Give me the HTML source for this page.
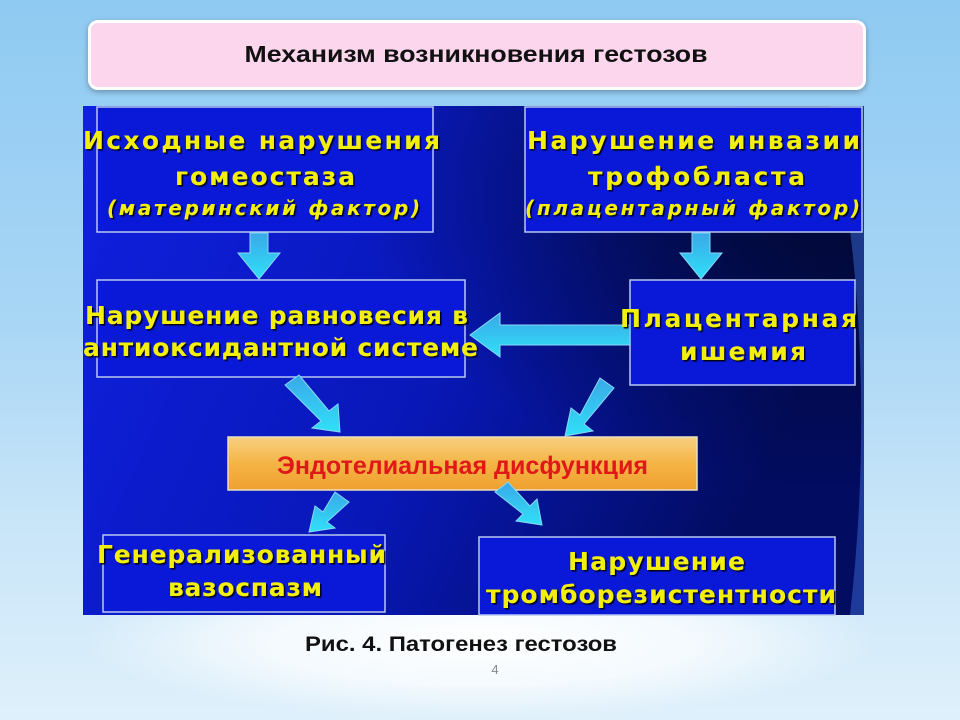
<!DOCTYPE html>
<html><head><meta charset="utf-8"><style>
body{margin:0;width:960px;height:720px;overflow:hidden;font-family:"Liberation Sans",sans-serif;
background:linear-gradient(180deg,#8fcaf2 0%,#a9d6f5 45%,#c6e4f8 70%,#dff0fb 100%);position:relative}
.glow{position:absolute;left:80px;top:560px;width:800px;height:160px;border-radius:50%;background:radial-gradient(ellipse at center,#ffffff 0%,rgba(255,255,255,0.7) 40%,rgba(255,255,255,0) 70%)}
.title{position:absolute;left:88px;top:20px;width:772px;height:64px;background:#fbd6ec;border:3px solid #fff;border-radius:10px;box-shadow:0 2px 6px rgba(0,0,0,.3)}
.num{position:absolute;left:0;width:990px;top:662px;text-align:center;font-size:13px;color:#888}
</style></head><body>
<div class="glow"></div>
<div class="title"></div>
<svg style="position:absolute;left:0;top:0" width="960" height="720">
<defs>
<linearGradient id="bg" x1="0" y1="0" x2="1" y2="0.3">
<stop offset="0" stop-color="#1020e0"/><stop offset="0.55" stop-color="#0818b8"/><stop offset="1" stop-color="#020c60"/></linearGradient>
<radialGradient id="dk" cx="0.95" cy="0.15" r="0.6"><stop offset="0" stop-color="#010830"/><stop offset="1" stop-color="#010830" stop-opacity="0"/></radialGradient>
<linearGradient id="or" x1="0" y1="0" x2="0" y2="1"><stop offset="0" stop-color="#f7d080"/><stop offset="0.5" stop-color="#f4b445"/><stop offset="1" stop-color="#f0a030"/></linearGradient>
<linearGradient id="ar" x1="0" y1="0" x2="0" y2="1"><stop offset="0" stop-color="#3aa8e8"/><stop offset="1" stop-color="#30e0f8"/></linearGradient>
<filter id="sh"><feDropShadow dx="1.5" dy="1.5" stdDeviation="0.6" flood-color="#000" flood-opacity="0.9"/></filter>
</defs>
<text x="476" y="62" text-anchor="middle" font-family="Liberation Sans,sans-serif" font-weight="bold" font-size="23" fill="#111" textLength="463" lengthAdjust="spacingAndGlyphs">Механизм возникновения гестозов</text>
<text x="461" y="651" text-anchor="middle" font-family="Liberation Sans,sans-serif" font-weight="bold" font-size="21" fill="#111" textLength="312" lengthAdjust="spacingAndGlyphs">Рис. 4. Патогенез гестозов</text>
<rect x="83" y="106" width="781" height="509" fill="url(#bg)"/>
<rect x="83" y="106" width="781" height="509" fill="url(#dk)"/>
<path d="M830 106 Q880 350 850 615 L864 615 L864 106Z" fill="#3a6ad8" opacity="0.5"/>
<g fill="#0a18d8" stroke="#b8c8f0" stroke-width="1.5">
<rect x="97" y="107" width="336" height="125"/>
<rect x="525" y="107" width="337" height="125"/>
<rect x="97" y="280" width="368" height="97"/>
<rect x="630" y="280" width="225" height="105"/>
<rect x="103" y="535" width="282" height="77"/>
<rect x="479" y="537" width="356" height="78"/>
</g>
<rect x="228" y="437" width="469" height="53" fill="url(#or)" stroke="#e8e0c0" stroke-width="1.5"/>
<g fill="url(#ar)" stroke="#8ad8f8" stroke-width="1">
<path d="M250 233 h18 v20 h12 l-21 26 l-21 -26 h12z"/>
<path d="M692 233 h18 v20 h12 l-21 26 l-21 -26 h12z"/>
<path d="M630 325 v20 h-130 v12 l-30 -22 l30 -22 v12z"/>
<path d="M285 385 l14 -10 l30 36 l9 -7 l2 28 l-28 -4 l9 -7z"/>
<path d="M600 378 l14 10 l-30 36 l9 7 l-28 5 l6 -28 l9 7z"/>
<path d="M335 492 l14 10 l-22 20 l8 6 l-26 4 l6 -26 l8 6z"/>
<path d="M495 492 l13 -10 l22 24 l7 -7 l5 26 l-26 -4 l7 -7z"/>
</g>
<g font-family="DejaVu Sans,sans-serif" font-weight="bold" fill="#f2ee10" filter="url(#sh)" font-size="25" lengthAdjust="spacingAndGlyphs">
<text x="83" y="149" textLength="357">Исходные нарушения</text>
<text x="175" y="185" textLength="180">гомеостаза</text>
<text x="107" y="215" font-size="20" font-style="italic" textLength="313">(материнский фактор)</text>
<text x="527" y="149" textLength="333">Нарушение инвазии</text>
<text x="588" y="185" textLength="217">трофобласта</text>
<text x="525" y="215" font-size="20" font-style="italic" textLength="335">(плацентарный фактор)</text>
<text x="85" y="324" textLength="383">Нарушение равновесия в</text>
<text x="83" y="356" textLength="395">антиоксидантной системе</text>
<text x="620" y="327" textLength="237">Плацентарная</text>
<text x="680" y="360" textLength="126">ишемия</text>
<text x="97" y="563" textLength="289">Генерализованный</text>
<text x="168" y="596" textLength="154">вазоспазм</text>
<text x="568" y="570" textLength="177">Нарушение</text>
<text x="486" y="603" textLength="350">тромборезистентности</text>
</g>
<text x="277" y="474" font-family="Liberation Sans,sans-serif" font-weight="bold" font-size="25" fill="#e01818" textLength="371" lengthAdjust="spacingAndGlyphs">Эндотелиальная дисфункция</text>
</svg>
<div class="num">4</div>
</body></html>
